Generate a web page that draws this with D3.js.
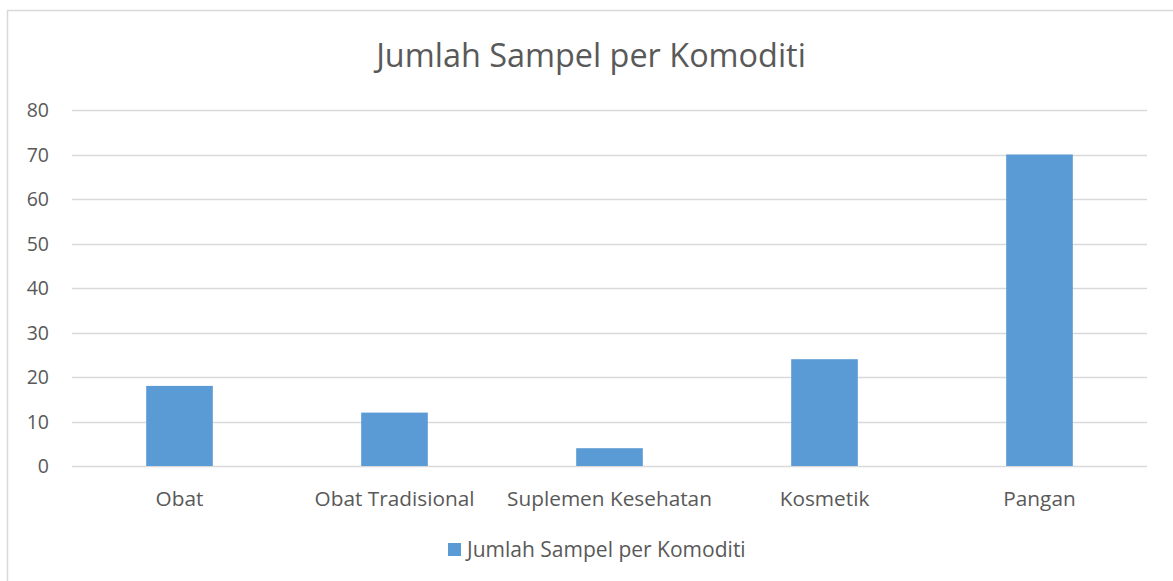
<!DOCTYPE html>
<html><head><meta charset="utf-8">
<script src="https://cdn.jsdelivr.net/npm/d3@7"></script>
<style>body{margin:0;background:#fff}svg{display:block}text{font-family:"Open Sans",sans-serif;fill:#595959}</style>
</head><body>
<svg id="c" width="1173" height="581"></svg>
<script>
const title = "Jumlah Sampel per Komoditi";
const categories = ["Obat","Obat Tradisional","Suplemen Kesehatan","Kosmetik","Pangan"];
const values = [18,12,4,24,70];
const seriesName = "Jumlah Sampel per Komoditi";
const yTicks = [0,10,20,30,40,50,60,70,80];

(function(){
const svg = d3.select("#c");
svg.append("rect").attr("x",7.5).attr("y",10.5).attr("width",1180).attr("height",600)
  .attr("fill","#fff").attr("stroke","#d9d9d9").attr("stroke-width",1.5);

const pL=72, pR=1147, pT=110, pB=466;
const x = d3.scaleBand().domain(categories).range([pL,pR]).paddingInner(0.69).paddingOuter(0.345);
const y = d3.scaleLinear().domain([0,80]).range([pB,pT]);

svg.append("g").selectAll("line").data(yTicks).join("line")
  .attr("x1",pL).attr("x2",pR).attr("y1",d=>Math.round(y(d))+0.5).attr("y2",d=>Math.round(y(d))+0.5)
  .attr("stroke","#d9d9d9").attr("stroke-width",1.3);

svg.append("g").selectAll("text").data(yTicks).join("text")
  .attr("x",49).attr("y",d=>y(d)+7).attr("text-anchor","end").attr("font-size",19.5).text(d=>d);

svg.append("g").selectAll("rect").data(values).join("rect")
  .attr("x",(d,i)=>x(categories[i])).attr("width",x.bandwidth())
  .attr("y",d=>y(d)).attr("height",d=>y(0)-y(d)).attr("fill","#5b9bd5");

const cl = svg.append("g").selectAll("text").data(categories).join("text")
  .attr("x",d=>x(d)+x.bandwidth()/2).attr("y",506).attr("text-anchor","middle").attr("font-size",20).text(d=>d);
const cw = cl.nodes()[1].getComputedTextLength();
cl.attr("font-size",20*160/cw);

const t = svg.append("text").attr("x",591).attr("y",67).attr("text-anchor","middle").attr("font-size",28).text(title);
const w = t.node().getComputedTextLength();
t.attr("font-size",28*430/w);

svg.append("rect").attr("x",448).attr("y",543).attr("width",13).attr("height",13).attr("fill","#5b9bd5");
const lt = svg.append("text").attr("x",467).attr("y",557).attr("font-size",17).text(seriesName);
const lw = lt.node().getComputedTextLength();
lt.attr("font-size",17*279/lw);
})();
</script>
</body></html>
